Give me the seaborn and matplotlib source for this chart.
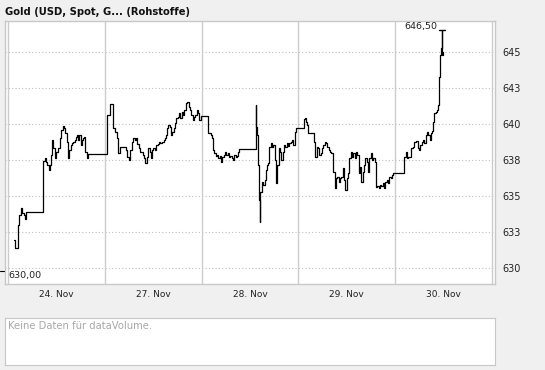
import numpy as np
import pandas as pd
import matplotlib
matplotlib.use("Agg")
import matplotlib.pyplot as plt
import seaborn as sns
from matplotlib.lines import Line2D

# time in trading days from 24. Nov 00:00 (one unit per day), price in USD
t_24 = [0.062, 0.076, 0.107, 0.117, 0.131, 0.144, 0.165, 0.179, 0.189, 0.364, 0.378,
        0.392, 0.405, 0.419, 0.433, 0.447, 0.457, 0.467, 0.481, 0.498, 0.515, 0.533,
        0.550, 0.564, 0.577, 0.591, 0.605, 0.619, 0.632, 0.646, 0.660, 0.674, 0.687,
        0.701, 0.715, 0.722, 0.735, 0.749, 0.763, 0.777, 0.790, 0.797, 0.811, 0.825]
p_24 = [631.94, 631.41, 632.99, 633.68, 634.14, 633.80, 633.68, 633.40, 633.87, 637.43, 637.62,
        637.38, 637.15, 636.81, 637.15, 637.85, 638.89, 638.31, 637.62, 638.08, 638.31, 639.00,
        639.58, 639.88, 639.70, 639.35, 638.77, 637.62, 638.19, 638.54, 638.66, 638.77, 638.89,
        639.12, 639.24, 638.89, 639.24, 638.54, 638.89, 639.00, 639.12, 638.08, 637.62, 637.89]

t_27 = [1.024, 1.052, 1.087, 1.104, 1.122, 1.139, 1.156, 1.219, 1.233, 1.247, 1.260, 1.281,
        1.295, 1.309, 1.323, 1.337, 1.351, 1.365, 1.378, 1.392, 1.406, 1.420, 1.434, 1.448,
        1.462, 1.476, 1.490, 1.503, 1.517, 1.531, 1.545, 1.559, 1.573, 1.594, 1.608, 1.622,
        1.628, 1.642, 1.656, 1.670, 1.684, 1.698, 1.712, 1.726, 1.740, 1.753, 1.767, 1.781,
        1.795, 1.809, 1.823, 1.837, 1.851, 1.865, 1.878, 1.892, 1.906, 1.920, 1.934, 1.948,
        1.962, 1.976, 1.990]
p_27 = [640.62, 641.37, 639.75, 639.47, 639.00, 637.96, 638.43, 638.20, 637.73, 637.50, 638.20, 638.77,
        639.05, 638.89, 639.00, 638.59, 638.31, 638.08, 638.03, 637.85, 637.61, 637.27, 637.73, 638.31,
        638.08, 637.61, 638.20, 638.31, 638.20, 638.54, 638.59, 638.77, 638.66, 638.77, 638.89, 639.00,
        639.24, 639.70, 639.93, 639.82, 639.24, 639.47, 639.70, 640.05, 640.39, 640.51, 640.74, 640.39,
        640.86, 640.62, 640.97, 641.44, 641.55, 641.20, 640.97, 640.62, 640.28, 640.51, 640.62, 640.97,
        640.74, 640.28, 640.58]

t_28 = [2.069, 2.093, 2.103, 2.117, 2.131, 2.144, 2.158, 2.172, 2.186, 2.199, 2.213, 2.227,
        2.241, 2.254, 2.268, 2.282, 2.296, 2.309, 2.323, 2.337, 2.351, 2.364, 2.378, 2.385,
        2.557, 2.560, 2.570, 2.581, 2.591, 2.601, 2.608, 2.619, 2.629, 2.639, 2.653, 2.667,
        2.677, 2.687, 2.701, 2.715, 2.729, 2.742, 2.756, 2.770, 2.784, 2.797, 2.811, 2.825,
        2.838, 2.852, 2.866, 2.880, 2.893, 2.907, 2.921, 2.935, 2.948, 2.962, 2.976]
p_28 = [639.35, 639.24, 639.00, 638.19, 637.96, 637.80, 637.85, 637.62, 637.80, 637.38, 637.73, 637.85,
        638.08, 637.85, 637.96, 637.73, 637.80, 637.62, 637.50, 637.85, 637.73, 637.80, 638.08, 638.26,
        641.32, 639.81, 639.24, 637.15, 634.72, 633.22, 635.30, 635.76, 635.99, 635.76, 636.11, 636.81,
        637.15, 637.27, 638.43, 638.66, 638.43, 638.54, 637.50, 635.88, 637.15, 638.31, 638.08, 637.50,
        638.08, 638.54, 638.43, 638.66, 638.49, 638.66, 638.77, 638.89, 638.54, 639.47, 639.70]

t_29 = [3.058, 3.072, 3.079, 3.093, 3.100, 3.158, 3.175, 3.189, 3.203, 3.216, 3.230, 3.244,
        3.258, 3.271, 3.285, 3.299, 3.313, 3.326, 3.340, 3.354, 3.361, 3.375, 3.388, 3.402,
        3.416, 3.430, 3.443, 3.457, 3.471, 3.485, 3.498, 3.512, 3.526, 3.540, 3.553, 3.567,
        3.581, 3.595, 3.608, 3.622, 3.636, 3.649, 3.663, 3.677, 3.691, 3.704, 3.718, 3.732,
        3.746, 3.759, 3.773, 3.787, 3.801, 3.814, 3.828, 3.842, 3.856, 3.869, 3.883, 3.897,
        3.911, 3.924, 3.938, 3.952, 3.966, 3.979]
p_29 = [640.35, 640.39, 640.16, 639.93, 639.35, 638.77, 637.73, 638.43, 638.31, 637.85, 637.96, 638.31,
        638.54, 638.77, 638.66, 638.43, 638.19, 638.08, 637.96, 637.73, 636.69, 635.53, 636.23, 636.34,
        636.00, 636.23, 636.34, 636.92, 636.11, 635.42, 636.23, 636.57, 637.62, 638.08, 637.73, 637.96,
        637.62, 638.08, 637.85, 636.57, 637.04, 635.99, 636.69, 637.15, 637.62, 637.38, 636.69, 637.62,
        637.96, 637.50, 637.62, 637.34, 635.65, 635.72, 635.58, 635.76, 635.67, 635.88, 635.53, 636.00,
        636.11, 635.88, 636.34, 636.23, 636.46, 636.57]

t_30 = [4.096, 4.110, 4.124, 4.137, 4.151, 4.165, 4.179, 4.192, 4.206, 4.220, 4.234, 4.247,
        4.261, 4.275, 4.289, 4.302, 4.316, 4.330, 4.344, 4.357, 4.371, 4.385, 4.392, 4.405,
        4.419, 4.433, 4.447, 4.454, 4.467, 4.474, 4.481, 4.485, 4.488, 4.495]
p_30 = [637.73, 638.08, 637.66, 637.73, 637.73, 638.31, 638.43, 638.77, 638.73, 638.82, 638.31, 638.19,
        638.54, 638.77, 638.89, 638.66, 639.24, 639.47, 639.24, 638.89, 639.35, 639.51, 640.16, 640.74,
        640.86, 640.97, 641.32, 643.29, 644.79, 645.25, 646.50, 645.60, 644.79, 645.02]

day_labels = ["24. Nov", "27. Nov", "28. Nov", "29. Nov", "30. Nov"]
y_grid = [630, 632.5, 635, 637.5, 640, 642.5, 645]
y_labels = ["630", "633", "635", "638", "640", "643", "645"]

df = pd.DataFrame({
    "t": t_24 + t_27 + t_28 + t_29 + t_30,
    "price": p_24 + p_27 + p_28 + p_29 + p_30,
})

sns.set_style("white")
plt.rcParams["font.family"] = ["DejaVu Sans"]

W, H = 545, 370
fig = plt.figure(figsize=(W / 100, H / 100), dpi=100, facecolor="#f0f0f0")

# main chart panel: x 5..495 px, y 21..284 px
ax = fig.add_axes([5 / W, (H - 284) / H, 490 / W, 263 / H])
ax.set_facecolor("white")

sns.lineplot(data=df, x="t", y="price", ax=ax, color="black", linewidth=0.9,
             drawstyle="steps-post", estimator=None, sort=False)

pad = 3 / 96.8
ax.set_xlim(-pad, len(day_labels) + pad)
ax.set_ylim(628.89, 647.15)

for yv in y_grid:
    ax.axhline(yv, color="#c0c0c0", linestyle=(0, (1, 2)), linewidth=0.8, zorder=0)
for d in range(len(day_labels) + 1):
    ax.axvline(d, color="#cccccc", linewidth=1.0, zorder=0)

ax.set_xticks(np.arange(len(day_labels)) + 0.5)
ax.set_xticklabels(day_labels)
ax.set_xticks(range(len(day_labels) + 1), minor=True)
ax.tick_params(axis="x", which="major", length=0, pad=4, labelsize=6.5, colors="#222222")
ax.tick_params(axis="x", which="minor", length=4, direction="inout", width=0.8, color="#333333")
ax.yaxis.tick_right()
ax.set_yticks(y_grid)
ax.set_yticklabels(y_labels)
ax.tick_params(axis="y", length=0, pad=5, labelsize=7, colors="#222222")
ax.set_xlabel("")
ax.set_ylabel("")
for s in ax.spines.values():
    s.set_color("#c8c8c8")
    s.set_linewidth(1.0)

# max / min markers
imax = df["price"].idxmax()
tmax, pmax = df.loc[imax, "t"], df.loc[imax, "price"]
ax.plot([tmax - 0.03, tmax + 0.035], [pmax, pmax], color="black", linewidth=1.0)
ax.text(tmax - 0.05, pmax + 0.3, f"{pmax:.2f}".replace(".", ","), ha="right", va="center",
        fontsize=6.8, color="#222222")
ax.text(0.0, 629.45, "630,00", ha="left", va="center", fontsize=6.8, color="#222222")
fig.add_artist(Line2D([0 / W, 4 / W], [(H - 271) / H] * 2, color="black", linewidth=0.8))

fig.text(5 / W, 1 - 12 / H, "Gold (USD, Spot, G... (Rohstoffe)", ha="left", va="center",
         fontsize=7.2, fontweight="bold", color="#111111")

# volume panel
ax2 = fig.add_axes([5 / W, (H - 365) / H, 490 / W, 47 / H])
ax2.set_facecolor("white")
ax2.set_xticks([])
ax2.set_yticks([])
for s in ax2.spines.values():
    s.set_color("#c8c8c8")
ax2.text(3 / 490, 1 - 8 / 47, "Keine Daten für dataVolume.", transform=ax2.transAxes,
         ha="left", va="center", fontsize=7.2, color="#a8a8a8")

fig.savefig("out.png", dpi=100, facecolor=fig.get_facecolor())
